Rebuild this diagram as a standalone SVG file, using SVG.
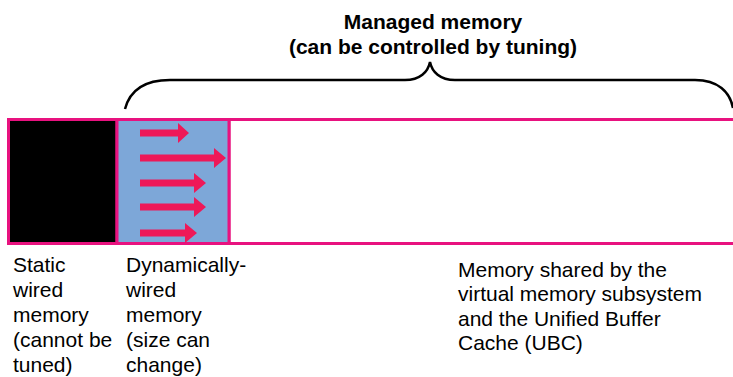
<svg xmlns="http://www.w3.org/2000/svg" width="733" height="377" viewBox="0 0 733 377">
<style>
  .t { font-family: "Liberation Sans", Arial, sans-serif; font-size: 21px; fill: #000; }
  .title { font-family: "Liberation Sans", Arial, sans-serif; font-size: 21px; font-weight: bold; fill: #000; }
  .box { stroke: #E8127F; stroke-width: 3; }
  .arrow { fill: #EE1858; }
</style>
<rect width="733" height="377" fill="#fff"/>
<g id="title">
  <text class="title" x="433" y="29" text-anchor="middle">Managed memory</text>
  <text class="title" x="433" y="54" text-anchor="middle">(can be controlled by tuning)</text>
</g>
<g id="brace">
  <path d="M125,109 C130,90 145,80 170,80 L405,80 C420,80 428,72 430,62 C432,72 440,80 455,80 L695,80 C718,80 730,92 733,108" fill="none" stroke="#000" stroke-width="2.5"/>
</g>
<g id="shared">
  <rect class="box" x="229" y="119.5" width="520" height="124" fill="#fff"/>
  <text class="t" x="458" y="277">Memory shared by the</text>
  <text class="t" x="458" y="301">virtual memory subsystem</text>
  <text class="t" x="458" y="326">and the Unified Buffer</text>
  <text class="t" x="458" y="350">Cache (UBC)</text>
</g>
<g id="static">
  <rect class="box" x="8.5" y="119.5" width="108.5" height="124" fill="#000"/>
  <text class="t" x="13" y="272">Static</text>
  <text class="t" x="13" y="297">wired</text>
  <text class="t" x="13" y="322">memory</text>
  <text class="t" x="13" y="347">(cannot be</text>
  <text class="t" x="13" y="372">tuned)</text>
</g>
<g id="dynamic">
  <rect class="box" x="117" y="119.5" width="112" height="124" fill="#7DA7D8"/>
  <polygon class="arrow" points="140,129.5 178,129.5 178,123 189,133 178,143 178,136.5 140,136.5"/>
  <polygon class="arrow" points="140,154.5 214,154.5 214,148 226,158 214,168 214,161.5 140,161.5"/>
  <polygon class="arrow" points="140,179.5 194,179.5 194,173 206,183 194,193 194,186.5 140,186.5"/>
  <polygon class="arrow" points="140,203.5 194,203.5 194,197 206,207 194,217 194,210.5 140,210.5"/>
  <polygon class="arrow" points="140,229.5 185,229.5 185,223 197,233 185,243 185,236.5 140,236.5"/>
  <text class="t" x="126" y="272">Dynamically-</text>
  <text class="t" x="126" y="297">wired</text>
  <text class="t" x="126" y="322">memory</text>
  <text class="t" x="126" y="347">(size can</text>
  <text class="t" x="126" y="372">change)</text>
</g>
</svg>
